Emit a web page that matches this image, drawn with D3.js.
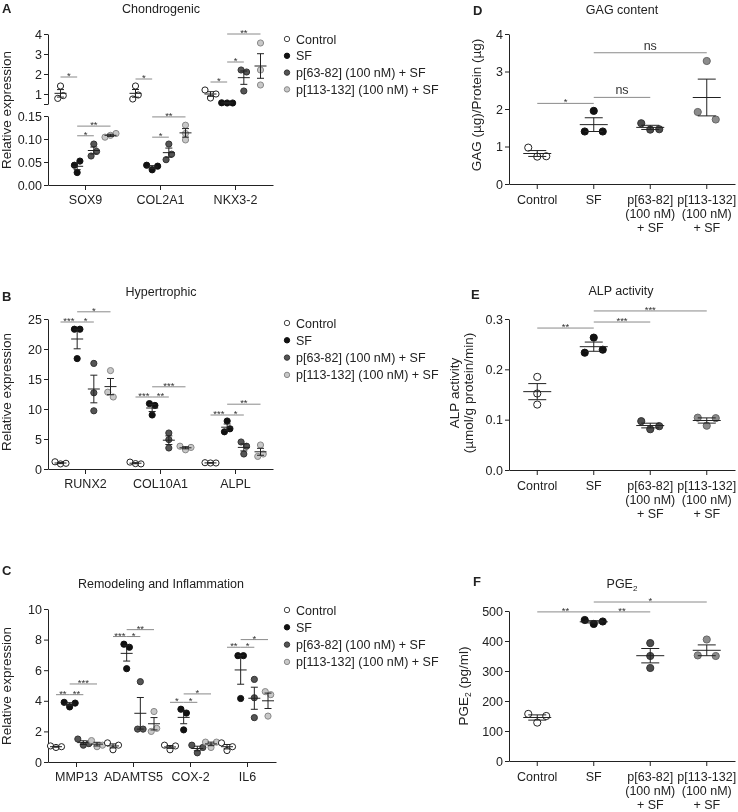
<!DOCTYPE html>
<html><head><meta charset="utf-8">
<script src="https://cdn.jsdelivr.net/npm/d3@7"></script>
<style>
body{margin:0;background:#fff;}
svg{display:block;filter:grayscale(100%);}
</style></head><body>
<svg id="fig" width="738" height="812"></svg>
<script>
// ================= DATA =================
const groupNames = ["Control", "SF", "p[63-82] (100 nM) + SF", "p[113-132] (100 nM) + SF"];
const groupLabelLines = [["Control"], ["SF"], ["p[63-82]", "(100 nM)", "+ SF"], ["p[113-132]", "(100 nM)", "+ SF"]];

// A — Chondrogenic (Control, SF, p63-82, p113-132), 3 replicates each
const chondroGenes = ["SOX9", "COL2A1", "NKX3-2"];
const sox9   = [[0.78, 0.92, 1.40], [0.027, 0.043, 0.052], [0.063, 0.073, 0.089], [0.104, 0.108, 0.112]];
const col2a1 = [[0.75, 0.95, 1.40], [0.043, 0.033, 0.041], [0.055, 0.067, 0.089], [0.098, 0.112, 0.130]];
const nkx32  = [[1.20, 0.80, 1.00], [0.56, 0.55, 0.55], [2.20, 2.10, 1.15], [3.55, 2.20, 1.45]];
const chondroUpperTicks = [0.5, 1, 2, 3, 4];
const chondroLowerTicks = [0, 0.05, 0.10, 0.15];
const chondroSig = [
  ["SOX9", 0, 1, "*", 1.85], ["SOX9", 1, 2, "*", 0.107], ["SOX9", 1, 3, "**", 0.128],
  ["COL2A1", 0, 1, "*", 1.75], ["COL2A1", 1, 2, "*", 0.104], ["COL2A1", 1, 3, "**", 0.148],
  ["NKX3-2", 0, 1, "*", 1.6], ["NKX3-2", 1, 2, "*", 2.6], ["NKX3-2", 1, 3, "**", 4.0]
];

// B — Hypertrophic
const hyperGenes = ["RUNX2", "COL10A1", "ALPL"];
const runx2   = [[1.20, 0.85, 0.95], [23.3, 23.3, 18.4], [17.6, 12.7, 9.7], [16.4, 12.8, 12.0]];
const col10a1 = [[1.15, 0.90, 0.85], [10.9, 10.6, 9.0], [3.5, 6.0, 4.9], [3.8, 3.2, 3.6]];
const alpl    = [[1.05, 1.00, 1.00], [8.0, 6.2, 6.7], [2.5, 4.5, 3.8], [4.0, 2.1, 2.5]];
const hyperTicks = [0, 5, 10, 15, 20, 25];
const hyperSig = [
  ["RUNX2", 0, 1, "***", 24.5], ["RUNX2", 1, 2, "*", 24.5], ["RUNX2", 1, 3, "*", 26.2],
  ["COL10A1", 0, 1, "***", 12.0], ["COL10A1", 1, 2, "**", 12.0], ["COL10A1", 1, 3, "***", 13.7],
  ["ALPL", 0, 1, "***", 9.0], ["ALPL", 1, 2, "*", 9.0], ["ALPL", 1, 3, "**", 10.8]
];

// C — Remodeling and Inflammation
const remodGenes = ["MMP13", "ADAMTS5", "COX-2", "IL6"];
const mmp13   = [[1.05, 0.95, 1.00], [3.9, 3.6, 3.85], [1.5, 1.1, 1.2], [1.4, 1.0, 1.1]];
const adamts5 = [[1.25, 0.80, 1.10], [7.7, 7.5, 6.1], [5.25, 2.15, 2.15], [3.3, 2.0, 2.2]];
const cox2    = [[1.10, 0.80, 1.05], [3.45, 3.2, 2.1], [1.1, 0.6, 0.95], [1.3, 0.95, 1.3]];
const il6     = [[1.25, 0.75, 1.00], [6.95, 6.95, 4.15], [5.4, 4.2, 2.9], [4.6, 4.4, 3.0]];
const remodTicks = [0, 2, 4, 6, 8, 10];
const remodSig = [
  ["MMP13", 0, 1, "**", 4.4], ["MMP13", 1, 2, "**", 4.4], ["MMP13", 1, 3, "***", 5.1],
  ["ADAMTS5", 0, 1, "***", 8.2], ["ADAMTS5", 1, 2, "*", 8.2], ["ADAMTS5", 1, 3, "**", 8.65],
  ["COX-2", 0, 1, "*", 3.9], ["COX-2", 1, 2, "*", 3.9], ["COX-2", 1, 3, "*", 4.45],
  ["IL6", 0, 1, "**", 7.5], ["IL6", 1, 2, "*", 7.5], ["IL6", 1, 3, "*", 8.0]
];

// D — GAG content
const gag = [[0.97, 0.73, 0.74], [1.95, 1.40, 1.40], [1.62, 1.45, 1.46], [3.28, 1.92, 1.72]];
const gagTicks = [0, 1, 2, 3, 4];
const gagSig = [[0, 1, "*", 2.15], [1, 2, "ns", 2.31], [1, 3, "ns", 3.5]];

// E — ALP activity
const alp = [[0.185, 0.152, 0.130], [0.263, 0.233, 0.239], [0.097, 0.081, 0.087], [0.104, 0.088, 0.103]];
const alpTicks = [0, 0.1, 0.2, 0.3];
const alpSig = [[0, 1, "**", 0.282], [1, 2, "***", 0.294], [1, 3, "***", 0.316]];

// F — PGE2
const pge2 = [[157, 128, 150], [470, 457, 465], [393, 350, 310], [405, 352, 350]];
const pgeTicks = [0, 100, 200, 300, 400, 500];
const pgeSig = [[0, 1, "**", 497], [1, 2, "**", 497], [1, 3, "*", 530]];

// ================= STYLE =================
const FONT = "'Liberation Sans', Arial, Helvetica, sans-serif";
const INK = "#222";
const leftStyles = [
  {fill: "#ffffff", stroke: "#222"}, {fill: "#111", stroke: "#111"},
  {fill: "#555", stroke: "#333"}, {fill: "#c8c8c8", stroke: "#888"}];
const rightStyles = [
  {fill: "#ffffff", stroke: "#222"}, {fill: "#111", stroke: "#111"},
  {fill: "#4d4d4d", stroke: "#333"}, {fill: "#8c8c8c", stroke: "#666"}];

const svg = d3.select("#fig").attr("font-family", FONT);

function sem(v) { return d3.deviation(v) / Math.sqrt(v.length); }

// group points into horizontal rows when they would overlap, then spread each row
function rowOffsets(ys, thresh, d, widePairs) {
  const idx = ys.map((y, i) => i).sort((a, b) => ys[a] - ys[b]);
  const off = new Array(ys.length).fill(0);
  const rows = [];
  let row = [idx[0]];
  for (let k = 1; k < idx.length; k++) {
    if (ys[idx[k]] - ys[row[row.length - 1]] < thresh) row.push(idx[k]);
    else { rows.push(row); row = [idx[k]]; }
  }
  rows.push(row);
  rows.forEach(r => {
    const n = r.length;
    const step = (widePairs && n === 2) ? 2 * d : d;
    r.slice().sort((a, b) => a - b).forEach((i, j) => { off[i] = (j - (n - 1) / 2) * step; });
  });
  return off;
}

function drawGroup(g, cx, vals, yFn, st, geo) {
  const ys = vals.map(yFn);
  const off = rowOffsets(ys, geo.thresh, geo.d, geo.widePairs);
  g.append("g").selectAll("circle").data(vals).join("circle")
    .attr("cx", (v, i) => cx + off[i]).attr("cy", (v, i) => ys[i])
    .attr("r", geo.r).attr("fill", st.fill).attr("stroke", st.stroke).attr("stroke-width", 1);
  const m = d3.mean(vals), s = sem(vals);
  const eb = g.append("g").attr("stroke", INK).attr("stroke-width", 1).attr("fill", "none");
  const ym = yFn(m), yt = yFn(m + s), yb = yFn(m - s);
  eb.append("line").attr("x1", cx - geo.meanHW).attr("x2", cx + geo.meanHW).attr("y1", ym).attr("y2", ym);
  eb.append("line").attr("x1", cx).attr("x2", cx).attr("y1", yt).attr("y2", yb);
  eb.append("line").attr("x1", cx - geo.capHW).attr("x2", cx + geo.capHW).attr("y1", yt).attr("y2", yt);
  eb.append("line").attr("x1", cx - geo.capHW).attr("x2", cx + geo.capHW).attr("y1", yb).attr("y2", yb);
}

function drawSig(g, xa, xb, y, label) {
  g.append("line").attr("x1", xa).attr("x2", xb).attr("y1", y).attr("y2", y)
    .attr("stroke", "#8a8a8a").attr("stroke-width", 1);
  const isNs = label === "ns";
  g.append("text").attr("x", (xa + xb) / 2).attr("y", isNs ? y - 3 : y + 2)
    .attr("text-anchor", "middle").attr("font-size", isNs ? 12.5 : 9.5)
    .attr("fill", "#333").text(label);
}

function styleAxis(sel) {
  sel.attr("font-family", FONT).attr("font-size", 12.5);
  sel.selectAll("path").attr("stroke", INK);
  sel.selectAll("line").attr("stroke", INK);
  sel.selectAll("text").attr("fill", INK);
}

function label(txt, x, y, opts = {}) {
  return svg.append("text").attr("x", x).attr("y", y)
    .attr("text-anchor", opts.anchor || "middle")
    .attr("font-size", opts.size || 12.5)
    .attr("font-weight", opts.bold ? "bold" : null)
    .attr("fill", opts.color || INK).text(txt);
}

function yLabel(txt, x, yc, size) {
  return svg.append("text").attr("transform", `translate(${x},${yc}) rotate(-90)`)
    .attr("text-anchor", "middle").attr("font-size", size || 13.5).attr("fill", INK).text(txt);
}

function legend(x, y0, step) {
  const g = svg.append("g");
  groupNames.forEach((name, i) => {
    const y = y0 + i * step;
    g.append("circle").attr("cx", x).attr("cy", y).attr("r", 2.7)
      .attr("fill", leftStyles[i].fill).attr("stroke", i === 0 ? "#444" : leftStyles[i].stroke);
    g.append("text").attr("x", x + 9).attr("y", y + 4.5).attr("font-size", 12.5).attr("fill", INK).text(name);
  });
}

// ---------- gene-expression panel (A, B, C) ----------
function genePanel(opt) {
  const g = svg.append("g");
  const x = d3.scaleBand().domain(opt.cats).range(opt.xRange);
  const gp = d3.scalePoint().domain([0, 1, 2, 3]).range([-opt.spread, opt.spread]);
  const cx = (c, i) => x(c) + x.bandwidth() / 2 + gp(i);
  opt.drawY(g);
  const xa = g.append("g").attr("transform", `translate(0,${opt.yBase})`)
    .call(d3.axisBottom(x).tickSize(5).tickPadding(5).tickSizeOuter(0));
  styleAxis(xa);
  const geo = {r: 3.1, d: 5.5, thresh: 6.2, widePairs: false, meanHW: 6, capHW: 3.5};
  opt.cats.forEach((c, ci) => {
    opt.series[ci].forEach((vals, gi) => drawGroup(g, cx(c, gi), vals, opt.yFn, leftStyles[gi], geo));
  });
  opt.sig.forEach(([c, a, b, lab, v]) => drawSig(g, cx(c, a), cx(c, b), opt.yFn(v), lab));
}

// ---------- A ----------
{
  const yL = d3.scaleLinear().domain([0, 0.15]).range([185, 116]);
  const yU = d3.scaleLinear().domain([0.5, 4]).range([104, 34]);
  genePanel({
    cats: chondroGenes, series: [sox9, col2a1, nkx32], xRange: [48, 273], spread: 25, yBase: 185,
    yFn: v => (v > 0.3 ? yU(v) : yL(v)), sig: chondroSig,
    drawY: g => {
      styleAxis(g.append("g").attr("transform", "translate(48,0)")
        .call(d3.axisLeft(yL).tickValues(chondroLowerTicks).tickFormat(d3.format(".2f")).tickSize(4).tickPadding(2).tickSizeOuter(0)));
      styleAxis(g.append("g").attr("transform", "translate(48,0)")
        .call(d3.axisLeft(yU).tickValues(chondroUpperTicks).tickFormat(d => (d < 1 ? "" : d)).tickSize(4).tickPadding(2).tickSizeOuter(0)));
    }
  });
  label("A", 2, 13, {anchor: "start", bold: true, size: 13});
  label("Chondrogenic", 161, 13);
  yLabel("Relative expression", 11, 110);
  legend(287, 39, 16.8);
}

// ---------- B ----------
{
  const y = d3.scaleLinear().domain([0, 25]).range([469, 319]);
  genePanel({
    cats: hyperGenes, series: [runx2, col10a1, alpl], xRange: [48, 273], spread: 25, yBase: 469,
    yFn: y, sig: hyperSig,
    drawY: g => styleAxis(g.append("g").attr("transform", "translate(48,0)")
      .call(d3.axisLeft(y).tickValues(hyperTicks).tickSize(4).tickPadding(2).tickSizeOuter(0)))
  });
  label("B", 2, 301, {anchor: "start", bold: true, size: 13});
  label("Hypertrophic", 161, 296);
  yLabel("Relative expression", 11, 392);
  legend(287, 323, 17.3);
}

// ---------- C ----------
{
  const y = d3.scaleLinear().domain([0, 10]).range([762, 609]);
  genePanel({
    cats: remodGenes, series: [mmp13, adamts5, cox2, il6], xRange: [48, 276], spread: 20.5, yBase: 762,
    yFn: y, sig: remodSig,
    drawY: g => styleAxis(g.append("g").attr("transform", "translate(48,0)")
      .call(d3.axisLeft(y).tickValues(remodTicks).tickSize(4).tickPadding(2).tickSizeOuter(0)))
  });
  label("C", 2, 575, {anchor: "start", bold: true, size: 13});
  label("Remodeling and Inflammation", 161, 588);
  yLabel("Relative expression", 11, 686);
  legend(287, 610, 17.3);
}

// ---------- single-measure panels (D, E, F) ----------
function measurePanel(opt) {
  const g = svg.append("g");
  const x = d3.scaleBand().domain(groupNames).range([509, 735]);
  const cx = i => x(groupNames[i]) + x.bandwidth() / 2;
  const ya = g.append("g").attr("transform", "translate(509,0)")
    .call(d3.axisLeft(opt.y).tickValues(opt.ticks).tickFormat(opt.fmt || (d => d)).tickSize(4).tickPadding(2).tickSizeOuter(0));
  styleAxis(ya);
  const xa = g.append("g").attr("transform", `translate(0,${opt.yBase})`)
    .call(d3.axisBottom(x).tickSize(5).tickFormat("").tickSizeOuter(0));
  styleAxis(xa);
  groupLabelLines.forEach((lines, i) => {
    lines.forEach((t, k) => {
      g.append("text").attr("x", cx(i)).attr("y", opt.yBase + 20 + k * 14)
        .attr("text-anchor", "middle").attr("font-size", 12.5).attr("fill", INK).text(t);
    });
  });
  const geo = {r: 3.6, d: 9, thresh: 10.5, widePairs: true, meanHW: 14, capHW: 9};
  opt.data.forEach((vals, i) => drawGroup(g, cx(i), vals, opt.y, rightStyles[i], geo));
  opt.sig.forEach(([a, b, lab, v]) => drawSig(g, cx(a), cx(b), opt.y(v), lab));
}

// D
measurePanel({y: d3.scaleLinear().domain([0, 4]).range([184, 34]), ticks: gagTicks, yBase: 184, data: gag, sig: gagSig});
label("D", 473, 15, {anchor: "start", bold: true, size: 13});
label("GAG content", 622, 14);
yLabel("GAG (µg)/Protein (µg)", 481, 105);

// E
measurePanel({y: d3.scaleLinear().domain([0, 0.3]).range([470, 319]), ticks: alpTicks, fmt: d3.format(".1f"), yBase: 470, data: alp, sig: alpSig});
label("E", 471, 299, {anchor: "start", bold: true, size: 13});
label("ALP activity", 621, 295);
yLabel("ALP activity", 459, 393);
yLabel("(µmol/g protein/min)", 473, 393);

// F
measurePanel({y: d3.scaleLinear().domain([0, 500]).range([761, 611]), ticks: pgeTicks, yBase: 761, data: pge2, sig: pgeSig});
label("F", 473, 586, {anchor: "start", bold: true, size: 13});
{
  const t = svg.append("text").attr("x", 622).attr("y", 588).attr("text-anchor", "middle")
    .attr("font-size", 12.5).attr("fill", INK);
  t.append("tspan").text("PGE");
  t.append("tspan").attr("font-size", 8).attr("dy", 3).text("2");
  const yl = svg.append("text").attr("transform", "translate(468,686) rotate(-90)")
    .attr("text-anchor", "middle").attr("font-size", 13.5).attr("fill", INK);
  yl.append("tspan").text("PGE");
  yl.append("tspan").attr("font-size", 8.5).attr("dy", 3).text("2");
  yl.append("tspan").attr("dy", -3).text(" (pg/ml)");
}
</script>
</body></html>
